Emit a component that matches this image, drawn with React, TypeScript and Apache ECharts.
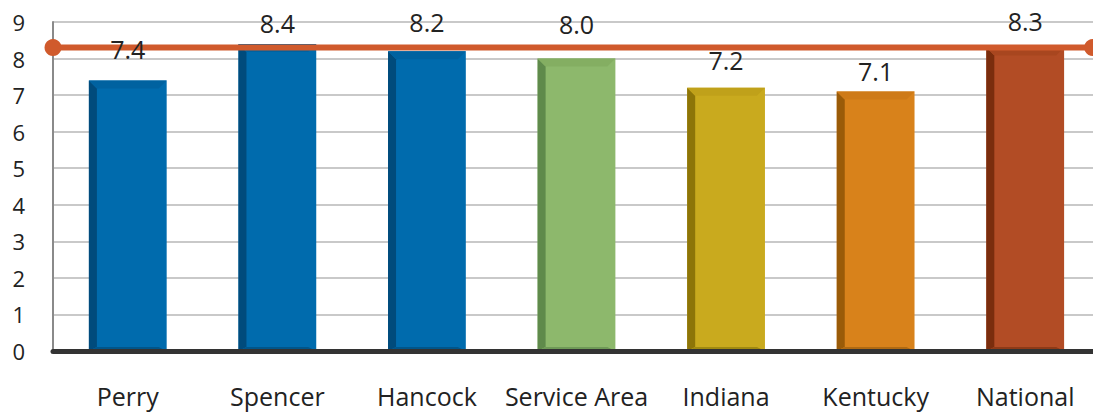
import React, { useEffect, useRef } from "react";
import * as echarts from "echarts";

const categories = ["Perry", "Spencer", "Hancock", "Service Area", "Indiana", "Kentucky", "National"];
const values = [7.4, 8.4, 8.2, 8.0, 7.2, 7.1, 8.3];
const referenceValue = 8.3;
const yTicks = { min: 0, max: 9, interval: 1 };

// styling
const palette = [
  { face: "#006BAD", left: "#004B7C", top: "#0062A0", bottom: "#00558A" },
  { face: "#006BAD", left: "#004B7C", top: "#0062A0", bottom: "#00558A" },
  { face: "#006BAD", left: "#004B7C", top: "#0062A0", bottom: "#00558A" },
  { face: "#8DB86C", left: "#5F8A4B", top: "#84AE62", bottom: "#6F9A57" },
  { face: "#C9AA1E", left: "#8D7508", top: "#C0A11A", bottom: "#A08A10" },
  { face: "#D8821B", left: "#9A5B08", top: "#CE7A17", bottom: "#B06A12" },
  { face: "#B24C25", left: "#7A2D0D", top: "#A8461F", bottom: "#8E3A17" },
];
const labelLift = [19, 8, 17, 22, 15, 8, 14];
const LINE_END = 0.993;
const FONT = "'Open Sans', 'Noto Sans', sans-serif";

export default function App() {
  const ref = useRef<HTMLDivElement>(null);
  useEffect(() => {
    if (!ref.current) return;
    const chart = echarts.init(ref.current, null, { renderer: "svg" });
    const BAR_FRAC = 0.52;
    chart.setOption({
      animation: false,
      grid: { left: 53, right: -7, top: 22, bottom: 66, containLabel: false, outerBoundsMode: "none" },
      xAxis: [
        {
          type: "category",
          data: categories,
          axisLine: { show: true, lineStyle: { color: "#333333", width: 5 } },
          axisTick: { show: false },
          axisLabel: { interval: 0, fontSize: 25, color: "#222222", margin: 32, fontFamily: FONT },
          z: 6,
        },
        { type: "value", min: 0, max: 1, show: false },
      ],
      yAxis: {
        type: "value",
        min: yTicks.min,
        max: yTicks.max,
        interval: yTicks.interval,
        axisLine: { show: true, lineStyle: { color: "#8A8A8A", width: 2 } },
        axisTick: { show: false },
        axisLabel: { fontSize: 22, color: "#222222", margin: 28, fontFamily: FONT },
        splitLine: { lineStyle: { color: "#C9C9C9", width: 2 } },
      },
      series: [
        {
          type: "custom",
          z: 2,
          data: values.map((v, i) => [i, v]),
          encode: { x: 0, y: 1 },
          renderItem: (params: any, api: any) => {
            const idx = api.value(0);
            const v = api.value(1);
            const top = api.coord([idx, v]);
            const base = api.coord([idx, 0]);
            const bw = api.size([1, 0])[0] * BAR_FRAC;
            const x0 = top[0] - bw / 2;
            const x1 = top[0] + bw / 2;
            const y0 = top[1];
            const y1 = base[1];
            const L = 8, T = 8, R = 8, B = 4;
            const c = palette[params.dataIndex];
            return {
              type: "group",
              children: [
                { type: "rect", shape: { x: x0, y: y0, width: x1 - x0, height: y1 - y0 }, style: { fill: c.face } },
                {
                  type: "polygon",
                  shape: { points: [[x0, y0], [x0 + L, y0 + T], [x0 + L, y1 - B], [x0, y1]] },
                  style: { fill: c.left },
                },
                {
                  type: "polygon",
                  shape: { points: [[x0, y0], [x1, y0], [x1 - R, y0 + T], [x0 + L, y0 + T]] },
                  style: { fill: c.top },
                },
                {
                  type: "polygon",
                  shape: { points: [[x0 + L, y1 - B], [x1 - R, y1 - B], [x1, y1], [x0, y1]] },
                  style: { fill: c.bottom },
                },
              ],
            };
          },
        },
        {
          type: "line",
          xAxisIndex: 1,
          z: 5,
          data: [[0, referenceValue], [LINE_END, referenceValue]],
          symbol: "circle",
          symbolSize: 17,
          showSymbol: true,
          lineStyle: { color: "#D05A2C", width: 6 },
          itemStyle: { color: "#D05A2C" },
        },
        {
          type: "bar",
          xAxisIndex: 0,
          z: 10,
          barWidth: "52%",
          data: values.map((v, i) => ({
            value: v,
            label: { distance: labelLift[i] },
          })),
          itemStyle: { color: "rgba(0,0,0,0)" },
          label: {
            show: true,
            position: "top",
            fontSize: 25,
            color: "#222222",
            fontFamily: FONT,
            formatter: (p: any) => Number(p.value).toFixed(1),
          },
        },
      ],
    });
    return () => chart.dispose();
  }, []);
  return (
    <div
      ref={ref}
      style={{ position: "fixed", left: 0, top: 0, width: 1093, height: 417, background: "#ffffff" }}
    />
  );
}
